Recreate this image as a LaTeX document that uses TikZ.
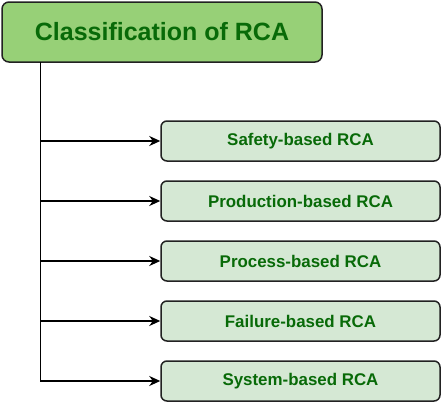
\documentclass[tikz,border=0pt]{standalone}
\usepackage{fontspec}
\setmainfont{Liberation Sans}
\usetikzlibrary{arrows.meta}
\definecolor{topfill}{HTML}{97D077}
\definecolor{subfill}{HTML}{D5E8D4}
\definecolor{txtgreen}{HTML}{086A08}
\definecolor{edge}{HTML}{222222}
\tikzset{
  titlebox/.style={draw=edge, line width=1.5pt, fill=topfill, rounded corners=7pt,
    minimum width=320pt, minimum height=60pt, inner sep=0pt,
    font=\fontsize{25pt}{29pt}\selectfont\bfseries, text=txtgreen},
  subbox/.style={draw=edge, line width=1.5pt, fill=subfill, rounded corners=6pt,
    minimum width=279pt, minimum height=40pt, inner sep=0pt,
    font=\fontsize{16.9pt}{20pt}\selectfont\bfseries, text=txtgreen},
  conn/.style={draw=black, line width=1.7pt},
  arr/.style={conn, -{Stealth[length=11pt,width=10pt]}}
}
\begin{document}
\begin{tikzpicture}[x=1pt,y=-1pt]
\useasboundingbox (0,0) rectangle (442,407);
\node[titlebox] (top) at (162,32) {Classification of RCA};
\node[subbox] (s1) at (300.5,141) {Safety-based RCA};
\node[subbox] (s2) at (300.5,201) {Production-based RCA};
\node[subbox] (s3) at (300.5,261) {Process-based RCA};
\node[subbox] (s4) at (300.5,321) {Failure-based RCA};
\node[subbox] (s5) at (300.5,381) {System-based RCA};
\coordinate (tb) at (40.5,62);
\coordinate (b1) at (40.5,141);
\coordinate (b2) at (40.5,201);
\coordinate (b3) at (40.5,261);
\coordinate (b4) at (40.5,321);
\draw[conn] (tb) -- (b4);
\draw[arr] (tb) |- (s5.west);
\draw[arr] (b1) -- (s1.west);
\draw[arr] (b2) -- (s2.west);
\draw[arr] (b3) -- (s3.west);
\draw[arr] (b4) -- (s4.west);
\end{tikzpicture}
\end{document}
